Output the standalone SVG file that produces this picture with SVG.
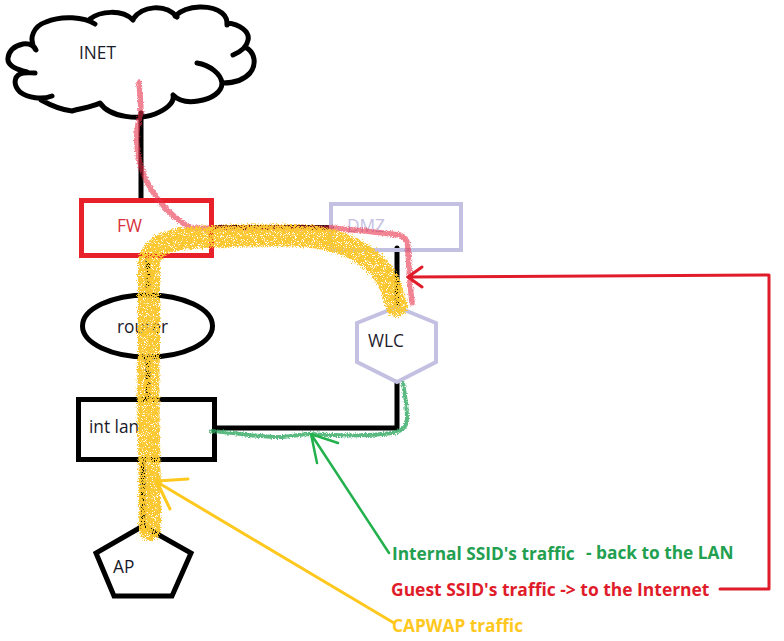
<svg xmlns="http://www.w3.org/2000/svg" width="784" height="641" viewBox="0 0 784 641">
<defs>
<filter id="spray" filterUnits="userSpaceOnUse" x="0" y="0" width="784" height="641" color-interpolation-filters="sRGB">
<feTurbulence type="fractalNoise" baseFrequency="1.1" numOctaves="2" seed="7" result="n"/>
<feDisplacementMap in="SourceGraphic" in2="n" scale="8" xChannelSelector="R" yChannelSelector="G" result="d"/>
<feColorMatrix in="n" type="matrix" values="0 0 0 0 0  0 0 0 0 0  0 0 0 0 0  9 0 0 0 -2.8" result="m"/>
<feComposite in="d" in2="m" operator="in"/>
</filter>
<filter id="rough" filterUnits="userSpaceOnUse" x="0" y="0" width="784" height="641" color-interpolation-filters="sRGB">
<feTurbulence type="fractalNoise" baseFrequency="0.8" numOctaves="2" seed="4" result="n"/>
<feDisplacementMap in="SourceGraphic" in2="n" scale="4" xChannelSelector="R" yChannelSelector="G"/>
</filter>
</defs>
<style>
text{font-family:"Open Sans","Noto Sans","Liberation Sans",sans-serif;font-size:17.3px;fill:#1a1a2a}
.b{font-weight:700}
.c{fill:none;stroke:#000;stroke-width:5;stroke-linecap:round;stroke-linejoin:round}
.l{fill:none;stroke-linecap:round;stroke-linejoin:round}
</style>
<rect width="784" height="641" fill="#fff"/>
<g id="inet">
<path class="c" d="M35 49C28 38 34 26 46 22C62 15 84 17 95 24M90 19C100 11 122 9 133 20M133 19C142 6 165 3 177 17M175 16C188 4 212 5 222 13C227 17 227 21 227 25M227 23C240 24 250 32 248 40C247 47 240 52 233 55M245 47C255 52 257 64 250 73C243 81 232 83 223 83M197 63C210 65 221 74 222 83C222 92 212 99 198 101C187 103 178 100 173 95C175 103 165 110 155 114C140 120 110 118 100 103C92 107 83 108 72 111C62 110 52 106 41 100M52 96C42 100 28 98 20 92C13 85 14 77 20 74C24 72 30 73 35 73M27 72C14 69 7 65 8 58C9 50 14 46 23 44C30 43 34 46 36 50"/>
<text x="79" y="59">INET</text>
</g>
<g id="connectors">
<path class="c" stroke-linecap="butt" d="M141 113V200M213 227.500H331M397 248V308M148 258V294M148 358V398M143 461V525M397 383V428H214"/>
</g>
<g id="fw"><rect x="81.500" y="200.500" width="130" height="55" fill="none" stroke="#e8202a" stroke-width="5"/><text x="117" y="232" style="fill:#d8303a">FW</text></g>
<g id="dmz"><rect x="331" y="204" width="130" height="46" fill="none" stroke="#c4c0e2" stroke-width="4"/><text x="347" y="232" style="fill:#c4c0e2">DMZ</text></g>
<g id="wlc"><polygon points="397,307 436,323 436,362 397,382 357,362 357,323" fill="#fff" stroke="#c4c0e2" stroke-width="4"/><text x="368" y="347">WLC</text></g>
<g id="router"><ellipse cx="147.500" cy="326" rx="65" ry="31" fill="#fff" stroke="#000" stroke-width="5"/><text x="117" y="333">router</text></g>
<g id="intlan"><rect x="78.500" y="399.500" width="136" height="60" fill="#fff" stroke="#000" stroke-width="5"/><text x="89" y="433">int lan</text></g>
<g id="ap"><polygon points="143,526 191,553 172,596 114,596 96,553" fill="#fff" stroke="#000" stroke-width="5"/><text x="113" y="573">AP</text></g>
<g id="traffic">
<path class="l" stroke="#e8304a" stroke-opacity=".6" stroke-width="5.500" filter="url(#rough)" d="M139 82C140 95 141 105 141 113C137 125 136 135 137 145C139 175 155 205 187 226C195 230 205 228 213 228H332C355 230 380 232 400 235C407 238 408 243 408 250C409 270 410 285 412 303"/>
<path class="l" stroke="#fbc832" stroke-width="22" filter="url(#spray)" d="M150 530C151 480 147 420 149 350V265C150 247 165 240 190 238C250 235 310 232 340 243C365 252 385 268 392 290C394 297 396 302 397 306"/>
<path class="l" stroke="#30a860" stroke-opacity=".8" stroke-width="4" filter="url(#rough)" d="M211 431C240 433 262 438 283 437C295 436 302 434 310 434C340 436 370 436 393 433C405 430 407 425 407 418C407 405 405 395 403 383"/>
</g>
<g id="arrows">
<path class="l" stroke="#ffc81e" stroke-width="3" d="M394 623L157 482M157 481L188 479M157 482L170 509"/>
<path class="l" stroke="#22b14c" stroke-width="2.500" d="M389 553L311 434M311 434L338 443M311 434L317 463"/>
<path class="l" stroke="#e01c2a" stroke-width="3" d="M720 589H769V275L408 277M408 277L422 267M408 277L422 287"/>
</g>
<g id="labels">
<text class="b" x="392" y="560" style="fill:#22a050">Internal SSID's traffic</text>
<text class="b" x="586" y="559" style="fill:#22a050">- back to the LAN</text>
<text class="b" x="391" y="596" style="fill:#e01c2a;font-size:17.45px">Guest SSID's traffic -&gt; to the Internet</text>
<text class="b" x="392" y="632" style="fill:#ffc81e">CAPWAP traffic</text>
</g>
</svg>
